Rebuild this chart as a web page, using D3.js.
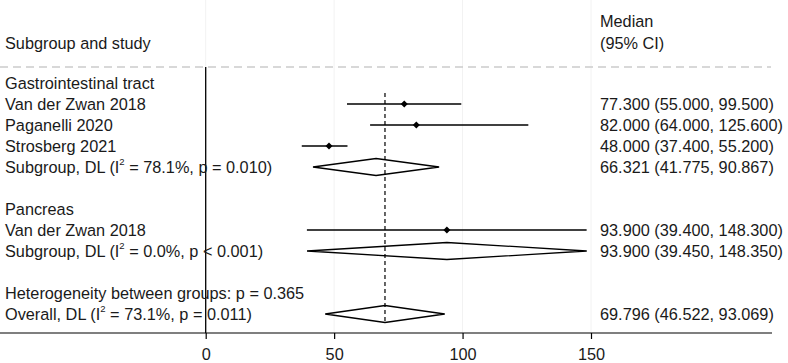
<!DOCTYPE html>
<html lang="en">
<head>
<meta charset="UTF-8">
<title>Forest plot</title>
<script src="https://d3js.org/d3.v7.min.js"></script>
<style>
    body { margin: 0; background: #fff; }
    svg text { font-family: Arial, "Liberation Sans", sans-serif; font-size: 16.3px; fill: #1a1a1a; }
</style>
</head>
<body>
<svg id="chart" width="788" height="363"></svg>
<script>
    // rows from top to bottom (row index = position)
    const labels = [
        "Gastrointestinal tract",
        "Van der Zwan 2018",
        "Paganelli 2020",
        "Strosberg 2021",
        "Subgroup, DL",
        "",
        "Pancreas",
        "Van der Zwan 2018",
        "Subgroup, DL",
        "",
        "Heterogeneity between groups: p = 0.365",
        "Overall, DL"
    ];
    const kinds = ["head", "study", "study", "study", "pooled", "", "head", "study", "pooled", "", "het", "pooled"];
    const est   = [null, 77.3, 82.0, 48.0, 66.321, null, null, 93.9, 93.9, null, null, 69.796];
    const lo    = [null, 55.0, 64.0, 37.4, 41.775, null, null, 39.4, 39.45, null, null, 46.522];
    const hi    = [null, 99.5, 125.6, 55.2, 90.867, null, null, 148.3, 148.35, null, null, 93.069];
    const i2    = [null, null, null, null, "78.1%", null, null, null, "0.0%", null, null, "73.1%"];
    const pval  = [null, null, null, null, "p = 0.010", null, null, null, "p < 0.001", null, null, "p = 0.011"];
    const xTicks = [0, 50, 100, 150];
    const overall = 69.796;

    const svg = d3.select("#chart");
    const x = d3.scaleLinear().domain([0, 150]).range([205.7, 591]);
    const y = d3.scaleLinear().domain([0, 11]).range([83, 314]);
    const axisY = 333;

    // faint grid
    svg.selectAll(".grid").data(xTicks).enter().append("line")
        .attr("x1", d => x(d)).attr("x2", d => x(d))
        .attr("y1", 0).attr("y2", axisY)
        .attr("stroke", "#f2f2f2").attr("stroke-width", 1);

    // header
    svg.append("text").attr("x", 5).attr("y", 49).text("Subgroup and study");
    svg.append("text").attr("x", 600).attr("y", 27).text("Median");
    svg.append("text").attr("x", 600).attr("y", 49).text("(95% CI)");
    svg.append("line").attr("x1", 0).attr("x2", 771).attr("y1", 67).attr("y2", 67)
        .attr("stroke", "#cccccc").attr("stroke-width", 1.5).attr("stroke-dasharray", "8,5");

    // zero line and overall reference line
    svg.append("line").attr("x1", x(0)).attr("x2", x(0)).attr("y1", 67).attr("y2", axisY)
        .attr("stroke", "#000").attr("stroke-width", 1.3);
    svg.append("line").attr("x1", x(overall)).attr("x2", x(overall)).attr("y1", 93).attr("y2", 322)
        .attr("stroke", "#000").attr("stroke-width", 1.2).attr("stroke-dasharray", "4,3");

    const rows = labels.map((l, i) => ({ i, label: l, kind: kinds[i], est: est[i], lo: lo[i], hi: hi[i], i2: i2[i], p: pval[i] }));

    // labels
    rows.forEach(r => {
        if (!r.label) return;
        const t = svg.append("text").attr("x", 5).attr("y", y(r.i) + 6);
        if (r.kind === "pooled") {
            t.append("tspan").text(r.label + " (I");
            t.append("tspan").attr("font-size", "9.5px").attr("dy", -8).text("2");
            t.append("tspan").attr("dy", 8).text(" = " + r.i2 + ", " + r.p + ")");
        } else {
            t.text(r.label);
        }
    });

    // studies
    const studies = rows.filter(r => r.kind === "study");
    svg.selectAll(".ci").data(studies).enter().append("line")
        .attr("x1", d => x(d.lo)).attr("x2", d => x(d.hi))
        .attr("y1", d => y(d.i)).attr("y2", d => y(d.i))
        .attr("stroke", "#000").attr("stroke-width", 1.5);
    svg.selectAll(".pt").data(studies).enter().append("path")
        .attr("d", d => {
            const cx = x(d.est), cy = y(d.i), s = 3.5;
            return `M${cx - s},${cy}L${cx},${cy - s}L${cx + s},${cy}L${cx},${cy + s}Z`;
        })
        .attr("fill", "#000");

    // pooled diamonds
    const pooled = rows.filter(r => r.kind === "pooled");
    svg.selectAll(".dm").data(pooled).enter().append("path")
        .attr("d", d => {
            const cy = y(d.i), h = 8.5;
            return `M${x(d.lo)},${cy}L${x(d.est)},${cy - h}L${x(d.hi)},${cy}L${x(d.est)},${cy + h}Z`;
        })
        .attr("fill", "none").attr("stroke", "#000").attr("stroke-width", 1.3);

    // right column
    const fmt = d3.format(".3f");
    svg.selectAll(".est").data(rows.filter(r => r.est !== null)).enter().append("text")
        .attr("x", 600).attr("y", d => y(d.i) + 6)
        .text(d => `${fmt(d.est)} (${fmt(d.lo)}, ${fmt(d.hi)})`);

    // x axis
    svg.append("line").attr("x1", 0).attr("x2", 772).attr("y1", axisY).attr("y2", axisY)
        .attr("stroke", "#000").attr("stroke-width", 1.2);
    const ax = svg.append("g").attr("transform", `translate(0,${axisY})`)
        .call(d3.axisBottom(x).tickValues(xTicks).tickSize(6).tickPadding(9).tickFormat(d3.format("d")));
    ax.select(".domain").remove();
    ax.selectAll("line").attr("stroke", "#000").attr("stroke-width", 1.2);
    ax.selectAll("text").attr("font-size", "15.5px").attr("font-family", "Arial, 'Liberation Sans', sans-serif").attr("fill", "#1a1a1a");
</script>
</body>
</html>
